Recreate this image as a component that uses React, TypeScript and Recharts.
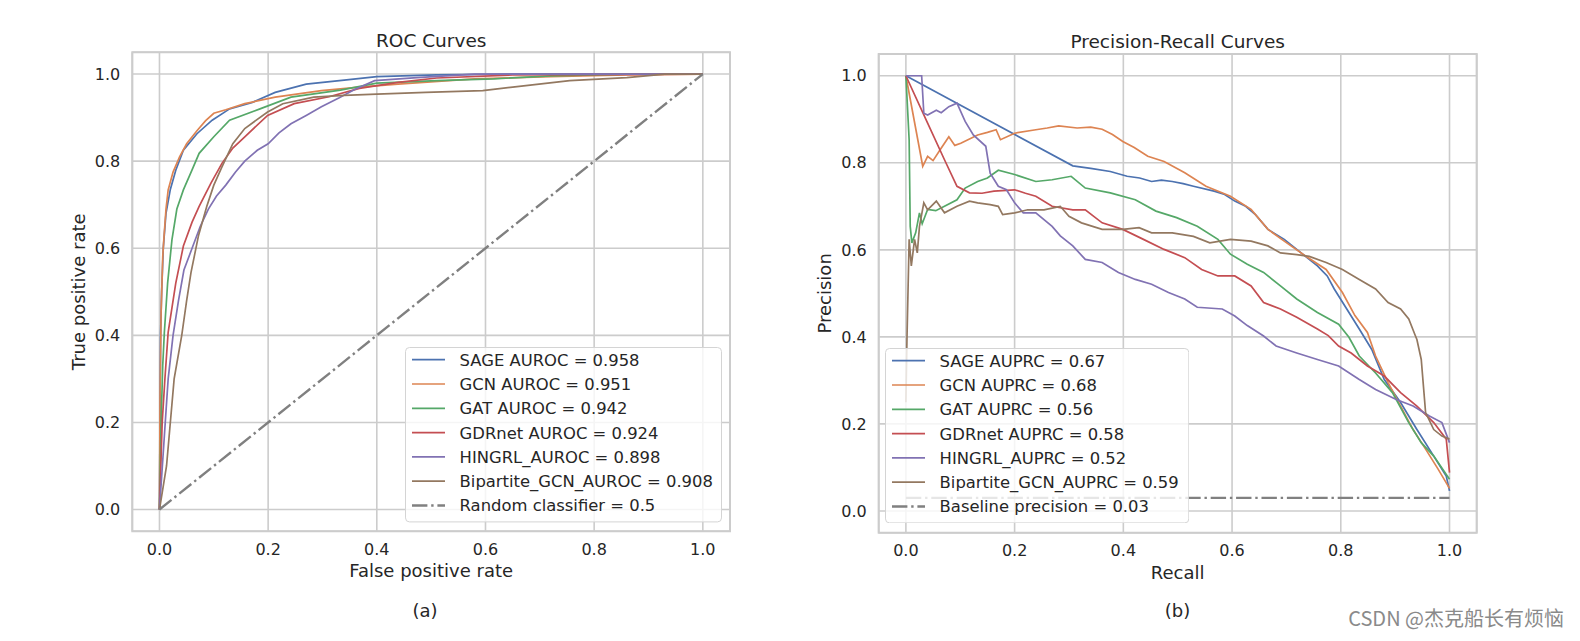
import React from 'react';
import { LineChart, Line, XAxis, YAxis, CartesianGrid, Legend, ReferenceArea } from 'recharts';

// ROC curves: [false positive rate, true positive rate]
const rocSage: [number, number][] = [
  [0, 0], [0.001, 0.2], [0.002, 0.4], [0.004, 0.5], [0.007, 0.6], [0.012, 0.68], [0.02, 0.735],
  [0.03, 0.779], [0.044, 0.825], [0.069, 0.863], [0.097, 0.894], [0.129, 0.92], [0.171, 0.935],
  [0.213, 0.958], [0.27, 0.977], [0.34, 0.986], [0.4, 0.994], [0.51, 0.998], [0.65, 1.0], [1, 1],
];
const rocGcn: [number, number][] = [
  [0, 0], [0.001, 0.25], [0.003, 0.45], [0.006, 0.58], [0.008, 0.62], [0.012, 0.69], [0.016, 0.734],
  [0.025, 0.775], [0.037, 0.81], [0.05, 0.84], [0.069, 0.87], [0.085, 0.893], [0.1, 0.91],
  [0.122, 0.918], [0.157, 0.932], [0.213, 0.947], [0.298, 0.962], [0.368, 0.97], [0.439, 0.977],
  [0.58, 0.989], [0.72, 0.994], [0.86, 0.998], [1, 1],
];
const rocGat: [number, number][] = [
  [0, 0], [0.003, 0.2], [0.006, 0.33], [0.009, 0.407], [0.015, 0.52], [0.023, 0.62], [0.032, 0.69],
  [0.044, 0.734], [0.06, 0.78], [0.073, 0.818], [0.1, 0.856], [0.129, 0.894], [0.185, 0.92],
  [0.242, 0.947], [0.333, 0.963], [0.4, 0.979], [0.51, 0.985], [0.615, 0.989], [0.72, 0.996],
  [0.86, 1.0], [1, 1],
];
const rocGdrnet: [number, number][] = [
  [0, 0], [0.005, 0.2], [0.01, 0.3], [0.016, 0.407], [0.03, 0.52], [0.044, 0.605], [0.06, 0.66],
  [0.073, 0.696], [0.095, 0.75], [0.115, 0.795], [0.135, 0.83], [0.157, 0.856], [0.199, 0.905],
  [0.248, 0.932], [0.312, 0.948], [0.368, 0.967], [0.439, 0.981], [0.51, 0.991], [0.65, 0.998], [1, 1],
];
const rocHingrl: [number, number][] = [
  [0, 0], [0.008, 0.15], [0.016, 0.3], [0.025, 0.4], [0.035, 0.48], [0.045, 0.55], [0.06, 0.6],
  [0.075, 0.65], [0.09, 0.69], [0.105, 0.72], [0.122, 0.745], [0.14, 0.775], [0.157, 0.8],
  [0.18, 0.825], [0.2, 0.84], [0.22, 0.865], [0.242, 0.886], [0.27, 0.905], [0.298, 0.925],
  [0.33, 0.945], [0.36, 0.965], [0.396, 0.985], [0.474, 0.992], [0.58, 1.0], [1, 1],
];
const rocBipartite: [number, number][] = [
  [0, 0], [0.013, 0.1], [0.027, 0.3], [0.041, 0.4], [0.05, 0.48], [0.058, 0.544], [0.072, 0.63],
  [0.087, 0.696], [0.1, 0.745], [0.115, 0.787], [0.135, 0.84], [0.157, 0.875], [0.199, 0.913],
  [0.227, 0.932], [0.284, 0.947], [0.34, 0.951], [0.4, 0.954], [0.49, 0.958], [0.595, 0.962],
  [0.65, 0.97], [0.755, 0.985], [0.86, 0.992], [0.93, 1.0], [1, 1],
];
const rocRandom: [number, number][] = [[0, 0], [1, 1]];

// Precision-recall curves: [recall, precision]
const prSage: [number, number][] = [
  [0, 1], [0.307, 0.793], [0.34, 0.787], [0.376, 0.78], [0.407, 0.769], [0.43, 0.765], [0.452, 0.757],
  [0.47, 0.76], [0.49, 0.757], [0.51, 0.752], [0.529, 0.746], [0.567, 0.735], [0.585, 0.728],
  [0.605, 0.712], [0.625, 0.7], [0.643, 0.681], [0.666, 0.647], [0.696, 0.624], [0.727, 0.593],
  [0.757, 0.563], [0.775, 0.54], [0.788, 0.51], [0.811, 0.464], [0.834, 0.418], [0.857, 0.371],
  [0.88, 0.302], [0.91, 0.249], [0.94, 0.187], [0.971, 0.126], [0.994, 0.08], [1.0, 0.046],
];
const prGcn: [number, number][] = [
  [0, 1], [0.031, 0.792], [0.04, 0.815], [0.05, 0.805], [0.063, 0.83], [0.079, 0.86], [0.09, 0.84],
  [0.101, 0.845], [0.132, 0.864], [0.15, 0.87], [0.166, 0.876], [0.174, 0.853], [0.2, 0.868],
  [0.239, 0.876], [0.26, 0.88], [0.281, 0.885], [0.315, 0.88], [0.34, 0.882], [0.361, 0.877],
  [0.38, 0.865], [0.399, 0.849], [0.42, 0.835], [0.445, 0.815], [0.475, 0.803], [0.513, 0.777],
  [0.552, 0.746], [0.597, 0.723], [0.635, 0.693], [0.666, 0.647], [0.696, 0.62], [0.735, 0.586],
  [0.773, 0.555], [0.803, 0.502], [0.826, 0.449], [0.849, 0.41], [0.864, 0.356], [0.887, 0.295],
  [0.91, 0.241], [0.933, 0.187], [0.956, 0.142], [0.979, 0.096], [1.0, 0.052],
];
const prGat: [number, number][] = [
  [0, 1], [0.006, 0.853], [0.008, 0.654], [0.011, 0.616], [0.018, 0.639], [0.025, 0.685], [0.03, 0.66],
  [0.04, 0.693], [0.055, 0.69], [0.071, 0.7], [0.094, 0.715], [0.109, 0.742], [0.132, 0.757],
  [0.15, 0.765], [0.17, 0.783], [0.2, 0.773], [0.239, 0.757], [0.269, 0.761], [0.304, 0.769],
  [0.33, 0.742], [0.376, 0.731], [0.422, 0.715], [0.46, 0.689], [0.498, 0.674], [0.536, 0.654],
  [0.574, 0.624], [0.597, 0.59], [0.628, 0.567], [0.658, 0.548], [0.689, 0.517], [0.719, 0.487],
  [0.757, 0.456], [0.796, 0.429], [0.815, 0.399], [0.834, 0.356], [0.864, 0.317], [0.895, 0.272],
  [0.925, 0.203], [0.948, 0.157], [0.971, 0.126], [1.0, 0.073],
];
const prGdrnet: [number, number][] = [
  [0, 1], [0.04, 0.891], [0.071, 0.807], [0.094, 0.746], [0.117, 0.731], [0.14, 0.73], [0.162, 0.735],
  [0.2, 0.738], [0.22, 0.73], [0.239, 0.723], [0.269, 0.7], [0.307, 0.692], [0.33, 0.692],
  [0.361, 0.662], [0.399, 0.647], [0.437, 0.624], [0.475, 0.601], [0.513, 0.582], [0.544, 0.555],
  [0.574, 0.54], [0.605, 0.54], [0.635, 0.517], [0.658, 0.479], [0.689, 0.464], [0.719, 0.445],
  [0.757, 0.418], [0.777, 0.403], [0.796, 0.379], [0.819, 0.363], [0.849, 0.333], [0.88, 0.31],
  [0.91, 0.272], [0.94, 0.241], [0.971, 0.203], [0.994, 0.165], [1.0, 0.088],
];
const prHingrl: [number, number][] = [
  [0, 1], [0.029, 1.0], [0.033, 0.914], [0.04, 0.91], [0.056, 0.921], [0.065, 0.915], [0.079, 0.929],
  [0.094, 0.937], [0.109, 0.895], [0.124, 0.864], [0.147, 0.838], [0.155, 0.776], [0.17, 0.746],
  [0.185, 0.738], [0.2, 0.708], [0.216, 0.685], [0.239, 0.685], [0.269, 0.654], [0.284, 0.632],
  [0.307, 0.609], [0.33, 0.578], [0.361, 0.571], [0.391, 0.548], [0.422, 0.532], [0.452, 0.521],
  [0.483, 0.502], [0.513, 0.487], [0.536, 0.468], [0.582, 0.464], [0.605, 0.448], [0.628, 0.426],
  [0.658, 0.402], [0.681, 0.379], [0.719, 0.363], [0.757, 0.348], [0.796, 0.333], [0.834, 0.302],
  [0.864, 0.279], [0.902, 0.256], [0.933, 0.241], [0.963, 0.218], [0.986, 0.203], [1.0, 0.157],
];
const prBipartite: [number, number][] = [
  [0, 0.25], [0.002, 0.395], [0.006, 0.624], [0.01, 0.563], [0.016, 0.624], [0.021, 0.593],
  [0.025, 0.654], [0.033, 0.708], [0.04, 0.692], [0.056, 0.712], [0.071, 0.685], [0.094, 0.7],
  [0.117, 0.712], [0.132, 0.708], [0.155, 0.704], [0.17, 0.7], [0.178, 0.681], [0.2, 0.685],
  [0.224, 0.692], [0.254, 0.692], [0.284, 0.7], [0.3, 0.677], [0.323, 0.662], [0.361, 0.647],
  [0.399, 0.647], [0.429, 0.651], [0.452, 0.639], [0.49, 0.639], [0.529, 0.631], [0.559, 0.616],
  [0.597, 0.624], [0.635, 0.62], [0.666, 0.609], [0.689, 0.593], [0.719, 0.589], [0.742, 0.585],
  [0.773, 0.571], [0.803, 0.555], [0.834, 0.532], [0.864, 0.51], [0.887, 0.479], [0.91, 0.464],
  [0.925, 0.441], [0.937, 0.403], [0.94, 0.394], [0.948, 0.348], [0.956, 0.226], [0.971, 0.187],
  [0.986, 0.172], [1.0, 0.165],
];
const prBaseline: [number, number][] = [[0, 0.03], [1, 0.03]];

const rocNames = [
  'SAGE AUROC = 0.958',
  'GCN AUROC = 0.951',
  'GAT AUROC = 0.942',
  'GDRnet AUROC = 0.924',
  'HINGRL_AUROC = 0.898',
  'Bipartite_GCN_AUROC = 0.908',
  'Random classifier = 0.5',
];
const prNames = [
  'SAGE AUPRC = 0.67',
  'GCN AUPRC = 0.68',
  'GAT AUPRC = 0.56',
  'GDRnet AUPRC = 0.58',
  'HINGRL_AUPRC = 0.52',
  'Bipartite_GCN_AUPRC = 0.59',
  'Baseline precision = 0.03',
];
const colors = ['#4c72b0', '#dd8452', '#55a868', '#c44e52', '#8172b3', '#937860', '#808080'];
const axisTicks = [0, 0.2, 0.4, 0.6, 0.8, 1.0];

const FONT = "'DejaVu Sans', sans-serif";
const TEXT = '#262626';
const GRID = '#cccccc';
const DASHDOT = '15.4 3.8 2.4 3.8';
const LW = 1.7;
const H = 641;

const toPoints = (arr: [number, number][]) => arr.map(([x, y]) => ({ x, y }));

function LegendBox({ names, width }: { names: string[]; width: number }) {
  const height = 175.4;
  return (
    <svg width={width} height={height} style={{ display: 'block' }}>
      <rect x={0.5} y={0.5} width={width - 1} height={height - 1} rx={4} fill="#ffffff" fillOpacity={0.8} stroke="#d4d4d4" />
      {names.map((n, i) => {
        const cy = 12.7 + 24.3 * i;
        const last = i === names.length - 1;
        return (
          <g key={n}>
            <line x1={7} x2={40} y1={cy} y2={cy} stroke={colors[i]}
              strokeWidth={last ? 2.4 : LW} strokeDasharray={last ? DASHDOT : undefined} />
            <text x={54.6} y={cy + 5.9} fontSize={16.4} fontFamily={FONT} fill={TEXT}>{n}</text>
          </g>
        );
      })}
    </svg>
  );
}

type PanelProps = {
  left: number;
  width: number;
  plot: { left: number; right: number; top: number; bottom: number };
  series: [number, number][][];
  names: string[];
  legendPos: { left: number; top: number; width: number };
  xLabel: string;
  yLabel: string;
  yLabelX: number;
  xLabelY: number;
};

function Panel({ left, width, plot, series, names, legendPos, xLabel, yLabel, yLabelX, xLabelY }: PanelProps) {
  const cx = (plot.left + plot.right) / 2;
  const cy = (plot.top + plot.bottom) / 2;
  return (
    <div style={{ position: 'absolute', left, top: 0 }}>
      <LineChart
        width={width}
        height={H}
        margin={{ top: plot.top, right: width - plot.right, bottom: H - plot.bottom - 30, left: 0 }}
        style={{ fontFamily: FONT }}
      >
        <CartesianGrid stroke={GRID} strokeWidth={1.6} />
        <XAxis
          type="number"
          dataKey="x"
          domain={[-0.05, 1.05]}
          ticks={axisTicks}
          interval={0}
          allowDataOverflow
          height={30}
          tickLine={false}
          axisLine={false}
          tickSize={0}
          tickMargin={12}
          tickFormatter={(v: number) => v.toFixed(1)}
          tick={{ fill: TEXT, fontSize: 16, fontFamily: FONT }}
          label={() => (
            <text x={cx} y={xLabelY} textAnchor="middle" fontSize={18} fontFamily={FONT} fill={TEXT}>{xLabel}</text>
          )}
        />
        <YAxis
          type="number"
          dataKey="y"
          domain={[-0.05, 1.05]}
          ticks={axisTicks}
          interval={0}
          allowDataOverflow
          width={plot.left}
          tickLine={false}
          axisLine={false}
          tickSize={0}
          tickMargin={12}
          tickFormatter={(v: number) => v.toFixed(1)}
          tick={{ fill: TEXT, fontSize: 16, fontFamily: FONT }}
          label={() => (
            <text x={yLabelX} y={cy} textAnchor="middle" fontSize={18} fontFamily={FONT} fill={TEXT}
              transform={`rotate(-90, ${yLabelX}, ${cy})`}>{yLabel}</text>
          )}
        />
        <ReferenceArea x1={-0.05} x2={1.05} y1={-0.05} y2={1.05} fill="none" stroke={GRID} strokeWidth={2} />
        {series.map((s, i) => {
          const last = i === series.length - 1;
          return (
            <Line
              key={names[i]}
              name={names[i]}
              data={toPoints(s)}
              dataKey="y"
              type="linear"
              stroke={colors[i]}
              strokeWidth={last ? 2.4 : LW}
              strokeDasharray={last ? DASHDOT : undefined}
              dot={false}
              activeDot={false}
              isAnimationActive={false}
            />
          );
        })}
        <Legend
          layout="vertical"
          align="center"
          verticalAlign="middle"
          wrapperStyle={{ left: legendPos.left, top: legendPos.top, width: legendPos.width, height: 175.4 }}
          content={() => <LegendBox names={names} width={legendPos.width} />}
        />
      </LineChart>
    </div>
  );
}

export default function App() {
  return (
    <div style={{ position: 'absolute', left: 0, top: 0, width: 1580, height: H, background: '#ffffff', overflow: 'hidden' }}>
      <Panel
        left={0}
        width={790}
        plot={{ left: 132.3, right: 730, top: 52.3, bottom: 531.3 }}
        series={[rocSage, rocGcn, rocGat, rocGdrnet, rocHingrl, rocBipartite, rocRandom]}
        names={rocNames}
        legendPos={{ left: 404.7, top: 347.3, width: 317 }}
        xLabel="False positive rate"
        yLabel="True positive rate"
        yLabelX={85}
        xLabelY={577}
      />
      <Panel
        left={790}
        width={790}
        plot={{ left: 88.7, right: 686.7, top: 54, bottom: 532.7 }}
        series={[prSage, prGcn, prGat, prGdrnet, prHingrl, prBipartite, prBaseline]}
        names={prNames}
        legendPos={{ left: 94.7, top: 347.5, width: 304.3 }}
        xLabel="Recall"
        yLabel="Precision"
        yLabelX={40.6}
        xLabelY={578.5}
      />
      <svg width={1580} height={H} style={{ position: 'absolute', left: 0, top: 0, pointerEvents: 'none' }}>
        <text x={431.2} y={46.7} textAnchor="middle" fontSize={18.5} fontFamily={FONT} fill={TEXT}>ROC Curves</text>
        <text x={1177.7} y={48.2} textAnchor="middle" fontSize={18.5} fontFamily={FONT} fill={TEXT}>Precision-Recall Curves</text>
        <text x={425} y={617} textAnchor="middle" fontSize={18} fontFamily={FONT} fill={TEXT}>(a)</text>
        <text x={1177.5} y={617} textAnchor="middle" fontSize={18} fontFamily={FONT} fill={TEXT}>(b)</text>
        <text x={1564} y={626} textAnchor="end" fontSize={20} fontFamily="'Noto Sans CJK SC', sans-serif"
          fill="#8a8a8a" stroke="#ffffff" strokeWidth={0.6} paintOrder="stroke">CSDN @杰克船长有烦恼</text>
      </svg>
    </div>
  );
}
